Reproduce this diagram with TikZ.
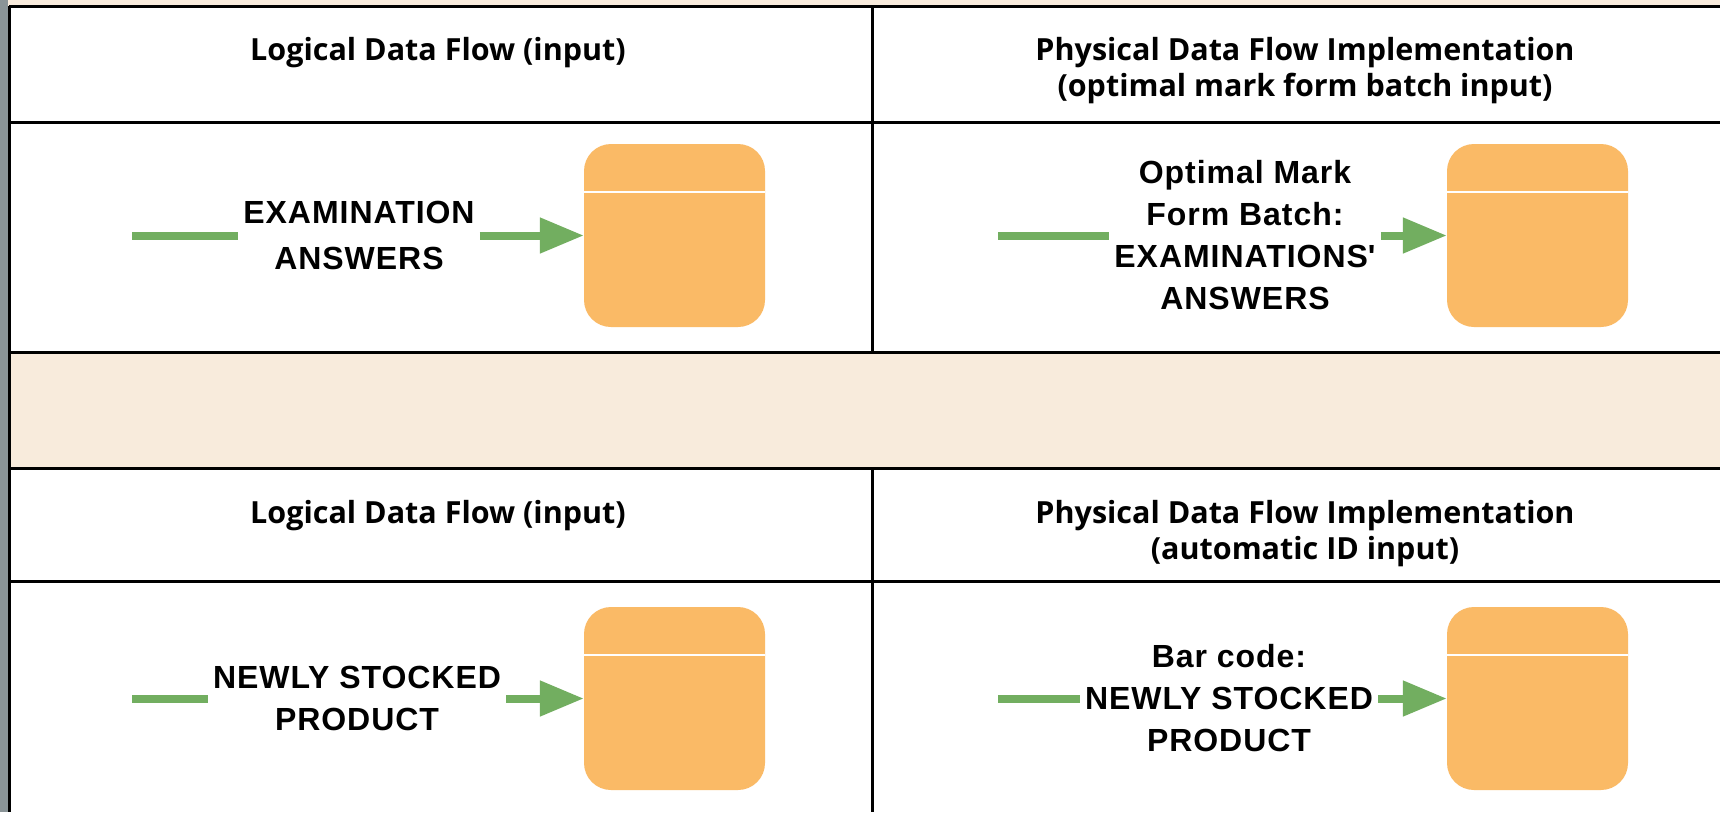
\documentclass[tikz,border=0pt]{standalone}
\usepackage{fontspec}
\setmainfont{Liberation Sans}
\newfontfamily\flowfont{Liberation Sans}[LetterSpace=3]
\newfontfamily\headfont{Open Sans}
\usepackage{tikz}
\usetikzlibrary{arrows.meta, positioning}

\definecolor{bandpeach}{HTML}{F8EBDC}
\definecolor{storeorange}{HTML}{FABA66}
\definecolor{flowgreen}{HTML}{72AE60}
\definecolor{edgegray}{HTML}{8A9497}

\begin{document}
\begin{tikzpicture}[x=1pt, y=-1pt,
  every node/.style={font=\flowfont\bfseries\fontsize{32}{42}\selectfont},
  grid/.style={line width=3pt, black},
  head/.style={anchor=north, align=center, font=\headfont\bfseries\fontsize{30.5}{36}\selectfont},
  store/.style={fill=storeorange, rounded corners=27pt, minimum width=181pt, minimum height=183pt, inner sep=0pt},
  flow/.style={line width=8pt, flowgreen},
  flowin/.style={flow, -{Triangle[length=44pt, width=34pt]}},
  flowtext/.style={align=center, inner sep=5pt}]
  \useasboundingbox (0,0) rectangle (1720,812);
  % Background, bands and table rules
  \fill[white] (0,0) rectangle (1720,812);
  \fill[bandpeach] (0,0) rectangle (1720,6);
  \fill[bandpeach] (9,352) rectangle (1720,468);
  \fill[edgegray] (0,0) rectangle (8,812);
  \foreach \y in {6,122,352,468,581}
    \draw[grid] (9,\y) -- (1720,\y);
  \draw[grid] (9,6) -- (9,812);
  \draw[grid] (872,6) -- (872,352);
  \draw[grid] (872,468) -- (872,812);

  % Headers
  \node[head] (hl1) at (438,34) {Logical Data Flow (input)};
  \node[head] (hr1) at (1305,34) {Physical Data Flow Implementation\\(optimal mark form batch input)};
  \node[head] (hl2) at (438,497) {Logical Data Flow (input)};
  \node[head] (hr2) at (1305,497) {Physical Data Flow Implementation\\(automatic ID input)};

  % Examination answers (top)
  \node[store] (s1) at (674.5,235.5) {};
  \node[flowtext] (t1) at (359,235.5) {EXAMINATION\\[4pt]ANSWERS};
  \coordinate (in1) at (132,235.5);
  \draw[flow] (in1) -- (t1);
  \draw[flowin] (t1) -- (s1);

  \node[store] (s2) at (1537.5,235.5) {};
  \node[flowtext] (t2) at (1245,235.5) {Optimal Mark\\Form Batch:\\EXAMINATIONS\textquotesingle\\ANSWERS};
  \coordinate (in2) at (998,235.5);
  \draw[flow] (in2) -- (t2);
  \draw[flowin] (t2) -- (s2);

  % Newly stocked product (bottom)
  \node[store] (s3) at (674.5,698.5) {};
  \node[flowtext] (t3) at (357,698.5) {NEWLY STOCKED\\PRODUCT};
  \coordinate (in3) at (132,698.5);
  \draw[flow] (in3) -- (t3);
  \draw[flowin] (t3) -- (s3);

  \node[store] (s4) at (1537.5,698.5) {};
  \node[flowtext] (t4) at (1229,698.5) {Bar code:\\NEWLY STOCKED\\PRODUCT};
  \coordinate (in4) at (998,698.5);
  \draw[flow] (in4) -- (t4);
  \draw[flowin] (t4) -- (s4);

  % store lids
  \foreach \s in {s1,s2,s3,s4}
    \draw[white, line width=2.5pt] ([yshift=-48pt]\s.north west) -- ([yshift=-48pt]\s.north east);
\end{tikzpicture}
\end{document}
